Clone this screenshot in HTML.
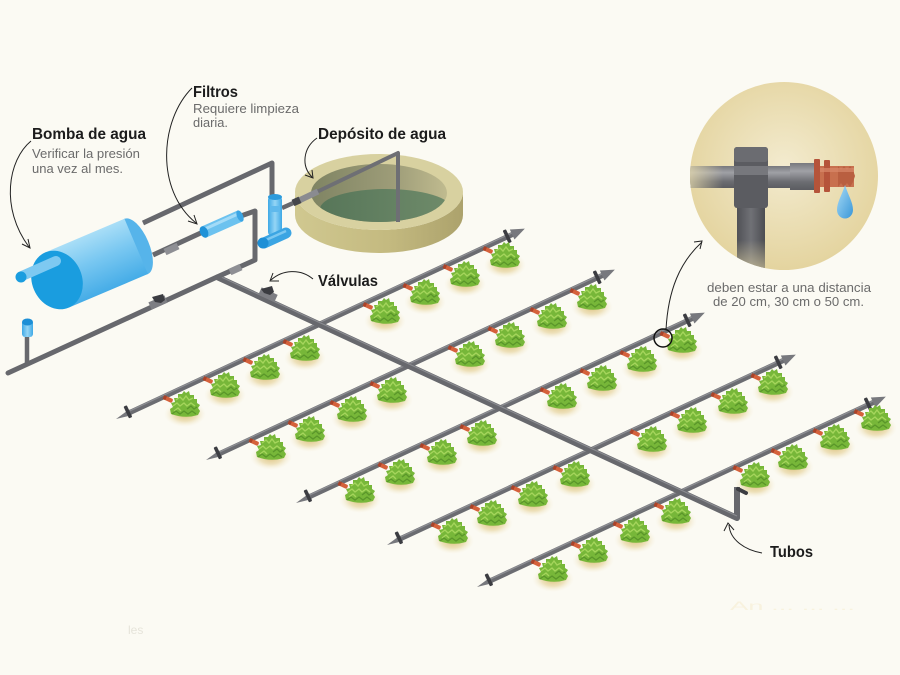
<!DOCTYPE html>
<html>
<head>
<meta charset="utf-8">
<style>
html,body{margin:0;padding:0;background:#fbfaf3;}
body{width:900px;height:675px;overflow:hidden;}
svg{display:block;}
.b{font-family:"Liberation Sans",sans-serif;font-weight:bold;fill:#1c1c1c;font-size:15.5px;}
.r{font-family:"Liberation Sans",sans-serif;fill:#6b6b6b;font-size:13px;}
</style>
</head>
<body>
<svg width="900" height="675" viewBox="0 0 900 675" xmlns="http://www.w3.org/2000/svg">
<defs>
  <radialGradient id="sh" cx="0.5" cy="0.5" r="0.5">
    <stop offset="0" stop-color="#d9bd76" stop-opacity="0.95"/>
    <stop offset="0.55" stop-color="#e8d6a2" stop-opacity="0.7"/>
    <stop offset="1" stop-color="#f6efd9" stop-opacity="0"/>
  </radialGradient>
  <g id="p">
    <ellipse cx="0" cy="10" rx="21" ry="13" fill="url(#sh)"/>
    <path d="M-14,10 L-15,5 L-12,3 L-14,-1 L-10,-2 L-11,-6 L-7,-6 L-7,-10 L-3,-10 L-1,-13 L1,-11 L4,-13 L5,-9 L9,-9 L9,-5 L12,-5 L12,-1 L15,1 L13,4 L15,7 L13,11 Q0,15 -14,10 Z" fill="#77b739"/>
    <path d="M-9,-4 L-5,-7 L-2,-4 L1,-8 L4,-4 L8,-6 M-12,2 L-8,-1 L-5,2 L-1,-1 L2,2 L6,-1 L10,2 M-11,7 L-7,4 L-4,7" stroke="#a5d55c" stroke-width="1.4" fill="none"/>
    <path d="M-13,10 L-9,7 L-5,10 L-1,7 L3,10 L7,7 L11,10 M2,5 L6,2 L9,5 L12,3" stroke="#5a962a" stroke-width="1.3" fill="none"/>
  </g>
  <g id="e">
    <rect x="-5" y="-2" width="10" height="4.2" rx="1.5" fill="#d5613b"/>
    <rect x="-5" y="-2" width="3" height="4.2" fill="#a8432a"/>
  </g>
  <g id="lat">
    <rect x="12" y="-2.6" width="428" height="5.2" fill="#6b6c71"/>
    <rect x="12" y="-2.2" width="428" height="1.3" fill="#8d8e93"/>
    <polygon points="0,0 16,-3.2 16,3.2" fill="#77787d"/>
    <rect x="12" y="-8" width="3.6" height="13" rx="1" fill="#3c3d42"/>
    <polygon points="437,-5.5 451,0 437,5.5" fill="#77787d"/>
    <rect x="430" y="-7.5" width="3.6" height="14" rx="1" fill="#3c3d42"/>
  </g>
  <linearGradient id="cyl" x1="0" y1="0" x2="0" y2="1">
    <stop offset="0" stop-color="#a9def7"/>
    <stop offset="0.45" stop-color="#78c7f1"/>
    <stop offset="1" stop-color="#45ace7"/>
  </linearGradient>
  <linearGradient id="blueH" x1="0" y1="0" x2="1" y2="0">
    <stop offset="0" stop-color="#3ea9e6"/>
    <stop offset="0.5" stop-color="#95d5f5"/>
    <stop offset="1" stop-color="#3ea9e6"/>
  </linearGradient>
  <linearGradient id="side" x1="0" y1="0" x2="1" y2="0">
    <stop offset="0" stop-color="#d0c890"/>
    <stop offset="0.55" stop-color="#c4ba80"/>
    <stop offset="1" stop-color="#aca26c"/>
  </linearGradient>
  <linearGradient id="inner" x1="0" y1="0" x2="1" y2="0">
    <stop offset="0" stop-color="#7f8463"/>
    <stop offset="0.6" stop-color="#9d9c78"/>
    <stop offset="1" stop-color="#c0bb8f"/>
  </linearGradient>
  <linearGradient id="water" x1="0" y1="0" x2="1" y2="0">
    <stop offset="0" stop-color="#577659"/>
    <stop offset="1" stop-color="#6f8b6a"/>
  </linearGradient>
  <clipPath id="innerClip"><ellipse cx="379" cy="193" rx="68" ry="29"/></clipPath>
  <radialGradient id="circ" cx="0.5" cy="0.45" r="0.55">
    <stop offset="0" stop-color="#f3ebcf"/>
    <stop offset="1" stop-color="#e4d49f"/>
  </radialGradient>
  <clipPath id="cc"><circle cx="784" cy="176" r="94"/></clipPath>
  <linearGradient id="hp" x1="0" y1="0" x2="0" y2="1">
    <stop offset="0" stop-color="#77787d"/>
    <stop offset="0.3" stop-color="#a0a1a6"/>
    <stop offset="0.7" stop-color="#6c6d72"/>
    <stop offset="1" stop-color="#5b5c61"/>
  </linearGradient>
  <linearGradient id="hpL" x1="0" y1="0" x2="1" y2="0">
    <stop offset="0" stop-color="#e8dcae" stop-opacity="0.8"/>
    <stop offset="0.35" stop-color="#e8dcae" stop-opacity="0"/>
  </linearGradient>
  <linearGradient id="vp" x1="0" y1="0" x2="1" y2="0">
    <stop offset="0" stop-color="#505156"/>
    <stop offset="0.5" stop-color="#707176"/>
    <stop offset="1" stop-color="#4c4d52"/>
  </linearGradient>
  <linearGradient id="vpF" x1="0" y1="0" x2="0" y2="1">
    <stop offset="0" stop-color="#e6d8a6" stop-opacity="0"/>
    <stop offset="1" stop-color="#e6d8a6" stop-opacity="0.7"/>
  </linearGradient>
  <linearGradient id="drop" x1="0" y1="0" x2="1" y2="1">
    <stop offset="0" stop-color="#a8dbf6"/>
    <stop offset="1" stop-color="#3a97d8"/>
  </linearGradient>
</defs>

<rect width="900" height="675" fill="#fbfaf3"/>

<!-- faint texts -->
<text x="128" y="634" font-family="Liberation Sans, sans-serif" font-size="12" fill="#e6e4da">les</text>
<text x="730" y="610" font-family="Liberation Sans, sans-serif" font-size="12" fill="#f8f2de" textLength="125" lengthAdjust="spacingAndGlyphs">An  ...  ...  ...</text>

<!-- lateral lines -->
<use href="#lat" transform="translate(116,419) rotate(-24.97)"/>
<use href="#lat" transform="translate(206,460) rotate(-24.97)"/>
<use href="#lat" transform="translate(296,503) rotate(-24.97)"/>
<use href="#lat" transform="translate(387,545) rotate(-24.97)"/>
<use href="#lat" transform="translate(477,587) rotate(-24.97)"/>

<!-- emitters -->
<g>
<use href="#e" transform="translate(168,399) rotate(25)"/><use href="#e" transform="translate(208,380) rotate(25)"/><use href="#e" transform="translate(248,361) rotate(25)"/><use href="#e" transform="translate(288,343) rotate(25)"/><use href="#e" transform="translate(368,306) rotate(25)"/><use href="#e" transform="translate(408,287) rotate(25)"/><use href="#e" transform="translate(448,268) rotate(25)"/><use href="#e" transform="translate(488,250) rotate(25)"/>
<use href="#e" transform="translate(254,442) rotate(25)"/><use href="#e" transform="translate(293,424) rotate(25)"/><use href="#e" transform="translate(335,404) rotate(25)"/><use href="#e" transform="translate(375,385) rotate(25)"/><use href="#e" transform="translate(453,349) rotate(25)"/><use href="#e" transform="translate(493,330) rotate(25)"/><use href="#e" transform="translate(535,311) rotate(25)"/><use href="#e" transform="translate(575,292) rotate(25)"/>
<use href="#e" transform="translate(343,485) rotate(25)"/><use href="#e" transform="translate(383,466) rotate(25)"/><use href="#e" transform="translate(425,447) rotate(25)"/><use href="#e" transform="translate(465,428) rotate(25)"/><use href="#e" transform="translate(545,391) rotate(25)"/><use href="#e" transform="translate(585,372) rotate(25)"/><use href="#e" transform="translate(625,354) rotate(25)"/><use href="#e" transform="translate(665,335) rotate(25)"/>
<use href="#e" transform="translate(436,526) rotate(25)"/><use href="#e" transform="translate(475,508) rotate(25)"/><use href="#e" transform="translate(516,489) rotate(25)"/><use href="#e" transform="translate(558,469) rotate(25)"/><use href="#e" transform="translate(635,433) rotate(25)"/><use href="#e" transform="translate(675,415) rotate(25)"/><use href="#e" transform="translate(716,396) rotate(25)"/><use href="#e" transform="translate(756,377) rotate(25)"/>
<use href="#e" transform="translate(536,563) rotate(25)"/><use href="#e" transform="translate(576,545) rotate(25)"/><use href="#e" transform="translate(618,525) rotate(25)"/><use href="#e" transform="translate(659,506) rotate(25)"/><use href="#e" transform="translate(738,469) rotate(25)"/><use href="#e" transform="translate(776,452) rotate(25)"/><use href="#e" transform="translate(818,432) rotate(25)"/><use href="#e" transform="translate(859,413) rotate(25)"/>
</g>

<!-- plants -->
<g>
<use href="#p" x="185" y="404"/><use href="#p" x="225" y="385"/><use href="#p" x="265" y="367"/><use href="#p" x="305" y="348"/><use href="#p" x="385" y="311"/><use href="#p" x="425" y="292"/><use href="#p" x="465" y="274"/><use href="#p" x="505" y="255"/>
<use href="#p" x="271" y="447"/><use href="#p" x="310" y="429"/><use href="#p" x="352" y="409"/><use href="#p" x="392" y="390"/><use href="#p" x="470" y="354"/><use href="#p" x="510" y="335"/><use href="#p" x="552" y="316"/><use href="#p" x="592" y="297"/>
<use href="#p" x="360" y="490"/><use href="#p" x="400" y="472"/><use href="#p" x="442" y="452"/><use href="#p" x="482" y="433"/><use href="#p" x="562" y="396"/><use href="#p" x="602" y="378"/><use href="#p" x="642" y="359"/><use href="#p" x="682" y="340"/>
<use href="#p" x="453" y="531"/><use href="#p" x="492" y="513"/><use href="#p" x="533" y="494"/><use href="#p" x="575" y="474"/><use href="#p" x="652" y="439"/><use href="#p" x="692" y="420"/><use href="#p" x="733" y="401"/><use href="#p" x="773" y="382"/>
<use href="#p" x="553" y="569"/><use href="#p" x="593" y="550"/><use href="#p" x="635" y="530"/><use href="#p" x="676" y="511"/><use href="#p" x="755" y="475"/><use href="#p" x="793" y="457"/><use href="#p" x="835" y="437"/><use href="#p" x="876" y="418"/>
</g>

<!-- main pipe -->
<polyline points="217,277 737,518 737,487" fill="none" stroke="#67686d" stroke-width="6" stroke-linejoin="round"/>
<polyline points="217,275 737,516" fill="none" stroke="#8a8b90" stroke-width="1.2"/>
<line x1="738" y1="489" x2="746" y2="493" stroke="#3c3d42" stroke-width="4" stroke-linecap="round"/>

<!-- long pipe & junction -->
<line x1="217" y1="277" x2="8" y2="373" stroke="#67686d" stroke-width="5" stroke-linecap="round"/>
<line x1="27" y1="337" x2="27" y2="364" stroke="#67686d" stroke-width="4.5"/>
<rect x="22" y="320" width="11" height="17" rx="3" fill="url(#blueH)"/>
<ellipse cx="27.5" cy="322" rx="5.5" ry="3.5" fill="#1d8fd6"/>
<!-- valves -->
<line x1="150" y1="306" x2="166" y2="299" stroke="#7d7e83" stroke-width="8"/>
<polygon points="152,297 163,294 165,300 161,303 155,302" fill="#3b3c41"/>
<line x1="260" y1="291" x2="276" y2="298.5" stroke="#7d7e83" stroke-width="8"/>
<polygon points="261,289 272,286 274,292 270,295 264,293" fill="#3b3c41"/>

<!-- pipes from pump -->
<polyline points="143,223 272,163 272,197" fill="none" stroke="#67686d" stroke-width="5" stroke-linejoin="round"/>
<polyline points="153,255 205,231" fill="none" stroke="#67686d" stroke-width="5"/>
<line x1="165" y1="252" x2="178" y2="246" stroke="#8e8f94" stroke-width="7"/>
<polyline points="238,217 255,211 255,260 217,277" fill="none" stroke="#67686d" stroke-width="5" stroke-linejoin="round"/>
<line x1="230" y1="272" x2="241" y2="267" stroke="#8e8f94" stroke-width="7"/>
<!-- blue horizontal filter -->
<line x1="204" y1="232" x2="240" y2="216" stroke="#6cc2ef" stroke-width="12"/>
<line x1="205" y1="229" x2="240" y2="213" stroke="#a3dbf7" stroke-width="3"/>
<ellipse cx="204" cy="232" rx="4" ry="6" transform="rotate(-24 204 232)" fill="#1f92d8"/>
<ellipse cx="240" cy="216" rx="3" ry="6" transform="rotate(-24 240 216)" fill="#3aa5e4"/>

<!-- pump -->
<g transform="translate(57,280) rotate(-23)">
  <ellipse cx="86" cy="0" rx="13" ry="30" fill="#56b4ea"/>
  <rect x="0" y="-30" width="86" height="60" fill="url(#cyl)"/>
  <ellipse cx="0" cy="0" rx="25" ry="30" fill="#1a9ddf"/>
</g>
<line x1="22" y1="276" x2="56" y2="261" stroke="#7ec9f1" stroke-width="10" stroke-linecap="round"/>
<circle cx="21" cy="277" r="5.5" fill="#1a9ddf"/>

<!-- tank -->
<path d="M295,192 L295,215 A84,38 0 0,0 463,215 L463,192 A84,38 0 0,1 295,192 Z" fill="url(#side)"/>
<ellipse cx="379" cy="192" rx="84" ry="38" fill="#d8d1a0"/>
<ellipse cx="379" cy="193" rx="68" ry="29" fill="url(#inner)"/>
<g clip-path="url(#innerClip)">
  <ellipse cx="386" cy="209" rx="66" ry="20" fill="url(#water)"/>
</g>
<!-- vertical filter -->
<line x1="282" y1="208" x2="300" y2="200" stroke="#67686d" stroke-width="4.5"/>
<rect x="268" y="196" width="14" height="40" rx="4" fill="url(#blueH)"/>
<rect x="270" y="206" width="10" height="6" fill="#5fb9ec"/>
<ellipse cx="275" cy="197" rx="7" ry="3" fill="#2d9bdc"/>
<line x1="264" y1="243" x2="286" y2="233" stroke="#3ba5e3" stroke-width="11" stroke-linecap="round"/>
<line x1="266" y1="240" x2="286" y2="231" stroke="#7cc8f1" stroke-width="2.5"/>
<circle cx="263" cy="243" r="5.5" fill="#1d8fd6"/>
<!-- pipe into tank -->
<polyline points="300,200 398,153 398,222" fill="none" stroke="#6e6f74" stroke-width="4" stroke-linejoin="round"/>
<line x1="298" y1="201" x2="318" y2="191.5" stroke="#8a8b90" stroke-width="6"/>
<line x1="293" y1="203" x2="300" y2="199.8" stroke="#45464b" stroke-width="7"/>

<!-- inset circle -->
<circle cx="784" cy="176" r="94" fill="url(#circ)"/>
<g clip-path="url(#cc)">
  <rect x="686" y="166" width="106" height="22" fill="url(#hp)"/>
  <rect x="686" y="166" width="106" height="22" fill="url(#hpL)"/>
  <rect x="790" y="163" width="24" height="27" fill="url(#hp)"/>
  <rect x="737" y="205" width="28" height="70" fill="url(#vp)"/>
  <rect x="737" y="240" width="28" height="35" fill="url(#vpF)"/>
  <rect x="734" y="147" width="34" height="61" rx="3" fill="#5b5c61"/>
  <rect x="734" y="147" width="34" height="15" rx="3" fill="#6b6c71"/>
  <rect x="734" y="166" width="34" height="9" fill="#77787d"/>
  <rect x="814" y="159" width="6" height="34" rx="1" fill="#b5543a"/>
  <rect x="820" y="166" width="34" height="21" fill="#c8704e"/>
  <rect x="824" y="160" width="6" height="32" rx="1" fill="#b5543a"/>
  <path d="M838,166 L841,170 L844,166 L847,170 L850,166 L853,170 L855,176 L853,182 L850,187 L847,183 L844,187 L841,183 L838,187" fill="#b95f40"/>
  <rect x="820" y="168" width="34" height="4" fill="#d8896a" opacity="0.7"/>
  <path d="M845,185 C848,195 853,202 853,210 A8,8.5 0 0,1 837,210 C837,202 842,195 845,185 Z" fill="url(#drop)"/>
</g>

<!-- callout circle on emitter -->
<circle cx="663" cy="338" r="9" fill="none" stroke="#111" stroke-width="1.5"/>

<!-- leader arrows -->
<g fill="none" stroke="#222" stroke-width="1">
  <path d="M31,141 C8,160 0,208 29,247"/>
  <polyline points="22,244 30,248 28,239"/>
  <path d="M192,88 C160,120 155,190 196,223"/>
  <polyline points="188,221 197,224 194,215"/>
  <path d="M317,138 C303,148 301,166 312,177"/>
  <polyline points="305,175 313,178 312,170"/>
  <path d="M313,279 C300,268 282,270 271,280"/>
  <polyline points="279,281 270,281 273,273"/>
  <path d="M762,553 C745,550 730,540 729,525"/>
  <polyline points="724,531 728,523 734,530"/>
  <path d="M666,330 C668,290 680,262 702,242"/>
  <polyline points="694,242 702,241 700,249"/>
</g>

<!-- labels -->
<text class="b" x="193" y="97" textLength="45" lengthAdjust="spacingAndGlyphs">Filtros</text>
<text class="r" x="193" y="113" textLength="106" lengthAdjust="spacingAndGlyphs">Requiere limpieza</text>
<text class="r" x="193" y="127" textLength="35" lengthAdjust="spacingAndGlyphs">diaria.</text>
<text class="b" x="32" y="139" textLength="114" lengthAdjust="spacingAndGlyphs">Bomba de agua</text>
<text class="r" x="32" y="158" textLength="108" lengthAdjust="spacingAndGlyphs">Verificar la presión</text>
<text class="r" x="32" y="173" textLength="91" lengthAdjust="spacingAndGlyphs">una vez al mes.</text>
<text class="b" x="318" y="139" textLength="128" lengthAdjust="spacingAndGlyphs">Depósito de agua</text>
<text class="b" x="318" y="286" textLength="60" lengthAdjust="spacingAndGlyphs">Válvulas</text>
<text class="b" x="770" y="557" textLength="43" lengthAdjust="spacingAndGlyphs">Tubos</text>
<text class="r" x="707" y="292" textLength="164" lengthAdjust="spacingAndGlyphs">deben estar a una distancia</text>
<text class="r" x="713" y="306" textLength="151" lengthAdjust="spacingAndGlyphs">de 20 cm, 30 cm o 50 cm.</text>
</svg>
</body>
</html>
